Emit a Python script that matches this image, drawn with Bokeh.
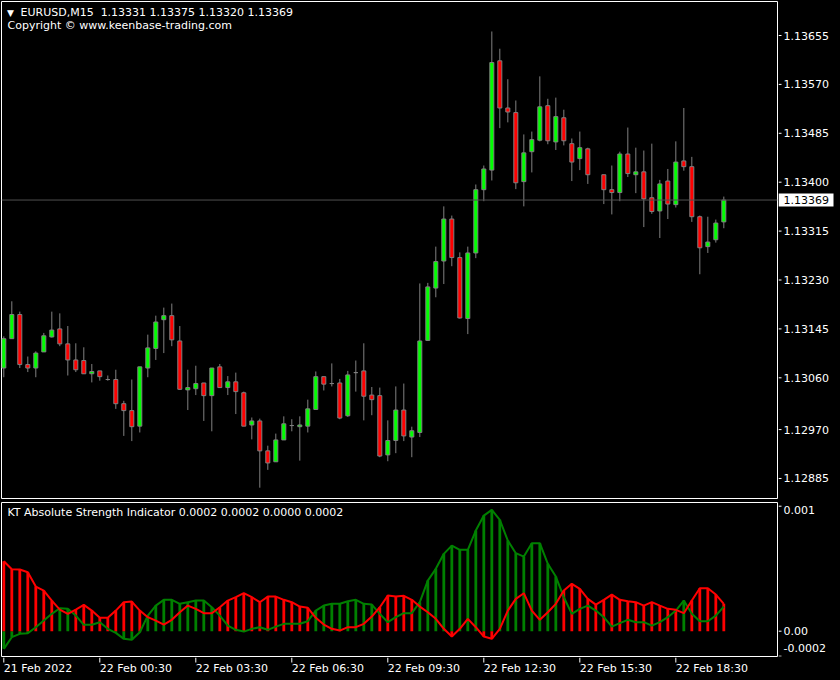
import numpy as np
from bokeh.plotting import figure
from bokeh.layouts import column, row
from bokeh.models import (ColumnDataSource, Range1d, Span, Label, GlobalInlineStyleSheet)
from bokeh.core.properties import value
from bokeh.embed import file_html
from bokeh.resources import INLINE

nan = float("nan")

# ---------------- data: EURUSD M15 ----------------
opens = [1.13077, 1.13128, 1.13170, 1.13083, 1.13077, 1.13105, 1.13131, 1.13145, 1.13119, 1.13091,
         1.13090, 1.13067, 1.13072, 1.13057, 1.13057, 1.13015, 1.13003, 1.12976, 1.13077, 1.13111,
         1.13161, 1.13168, 1.13124, 1.13039, 1.13041, 1.13051, 1.13029, 1.13079, 1.13043, 1.13053,
         1.13034, 1.12978, 1.12985, 1.12933, 1.12914, 1.12952, 1.12977, 1.12975, 1.12976, 1.13005,
         1.13062, 1.13050, 1.13051, 1.12994, 1.13069, 1.13072, 1.13030, 1.13029, 1.12926, 1.12951,
         1.13004, 1.12957, 1.12965, 1.13125, 1.13216, 1.13263, 1.13336, 1.13269, 1.13163, 1.13277,
         1.13387, 1.13421, 1.13611, 1.13529, 1.13521, 1.13401, 1.13453, 1.13473, 1.13533, 1.13470,
         1.13512, 1.13467, 1.13441, 1.13458, nan, 1.13413, 1.13387, 1.13382, 1.13449, 1.13413,
         1.13418, 1.13373, 1.13350, 1.13402, 1.13361, 1.13437, 1.13427, 1.13340, 1.13288, 1.13300,
         1.13331]
highs = [1.13132, 1.13193, 1.13175, 1.13097, 1.13106, 1.13138, 1.13175, 1.13172, 1.13150, 1.13120,
         1.13113, 1.13084, 1.13072, 1.13064, 1.13074, 1.13020, 1.13057, 1.13079, 1.13135, 1.13168,
         1.13182, 1.13189, 1.13150, 1.13074, 1.13081, 1.13051, 1.13077, 1.13084, 1.13063, 1.13069,
         1.13036, 1.12991, 1.12989, 1.12942, 1.12963, 1.12993, 1.12988, 1.12993, 1.13022, 1.13071,
         1.13062, 1.13085, 1.13058, 1.13072, 1.13090, 1.13120, 1.13044, 1.13043, 1.12986, 1.13045,
         1.13050, 1.12975, 1.13224, 1.13225, 1.13288, 1.13358, 1.13342, 1.13278, 1.13288, 1.13396,
         1.13429, 1.13662, 1.13632, 1.13579, 1.13542, 1.13483, 1.13488, 1.13584, 1.13545, 1.13547,
         1.13526, 1.13476, 1.13488, 1.13460, nan, 1.13413, 1.13429, 1.13453, 1.13495, 1.13460,
         1.13455, 1.13467, 1.13404, 1.13423, 1.13471, 1.13529, 1.13444, 1.13342, 1.13340, 1.13335,
         1.13375]
lows = [1.13061, 1.13128, 1.13077, 1.13070, 1.13061, 1.13105, 1.13130, 1.13115, 1.13064, 1.13070,
        1.13067, 1.13052, 1.13055, 1.13055, 1.13006, 1.12959, 1.12950, 1.12965, 1.13061, 1.13091,
        1.13103, 1.13115, 1.13039, 1.13004, 1.13030, 1.12985, 1.12967, 1.13043, 1.13030, 1.12997,
        1.12976, 1.12953, 1.12869, 1.12900, 1.12914, 1.12952, 1.12967, 1.12916, 1.12965, 1.13005,
        1.13038, 1.13045, 1.12988, 1.12992, 1.13036, 1.12986, 1.12995, 1.12922, 1.12915, 1.12929,
        1.12950, 1.12922, 1.12957, 1.13124, 1.13200, 1.13223, 1.13254, 1.13163, 1.13136, 1.13268,
        1.13367, 1.13403, 1.13494, 1.13504, 1.13388, 1.13358, 1.13417, 1.13471, 1.13466, 1.13456,
        1.13464, 1.13402, 1.13421, 1.13397, nan, 1.13362, 1.13344, 1.13367, 1.13409, 1.13381,
        1.13322, 1.13345, 1.13303, 1.13336, 1.13356, 1.13420, 1.13331, 1.13240, 1.13277, 1.13295,
        1.13320]
closes = [1.13128, 1.13170, 1.13083, 1.13077, 1.13103, 1.13133, 1.13143, 1.13119, 1.13091, 1.13074,
          1.13067, 1.13071, 1.13062, 1.13057, 1.13015, 1.13003, 1.12975, 1.13079, 1.13112, 1.13157,
          1.13168, 1.13126, 1.13040, 1.13043, 1.13050, 1.13029, 1.13077, 1.13043, 1.13053, 1.13036,
          1.12976, 1.12985, 1.12933, 1.12912, 1.12952, 1.12980, 1.12977, 1.12978, 1.13006, 1.13062,
          1.13049, 1.13050, 1.12990, 1.13065, 1.13069, 1.13028, 1.13022, 1.12924, 1.12951, 1.13004,
          1.12959, 1.12968, 1.13124, 1.13218, 1.13262, 1.13336, 1.13269, 1.13164, 1.13277, 1.13387,
          1.13423, 1.13608, 1.13529, 1.13522, 1.13399, 1.13451, 1.13474, 1.13531, 1.13472, 1.13514,
          1.13472, 1.13435, 1.13460, 1.13413, nan, 1.13387, 1.13382, 1.13449, 1.13415, 1.13418,
          1.13371, 1.13349, 1.13397, 1.13362, 1.13435, 1.13427, 1.13340, 1.13286, 1.13296, 1.13329,
          1.13369]

# KT Absolute Strength indicator (units of 1e-5)
bull_e5 = [-14.1, -4.8, -2.1, -1.6, 3.2, 8.5, 13.9, 18.4, 17.9, 12.5,
           5.1, 5.1, 7.2, 1.9, -1.3, -6.1, -6.9, -0.8, 12.5, 20.5,
           25.1, 25.1, 21.9, 23.2, 24.5, 24.5, 19.2, 12.5, 4.5, 1.1,
           -0.3, 1.9, 3.2, 1.1, 3.7, 5.9, 5.9, 5.9, 8.0, 16.5,
           20.5, 21.9, 21.9, 24.0, 25.1, 21.9, 21.3, 13.9, 7.2, 11.2,
           14.4, 14.4, 23.2, 40.5, 49.9, 61.9, 68.5, 65.1, 65.1, 80.5,
           92.5, 97.1, 89.1, 72.5, 62.4, 59.7, 70.4, 70.4, 53.9, 43.7,
           27.2, 13.9, 17.9, 20.5, 16.5, 11.2, 3.7, 6.4, 9.1, 7.2,
           7.2, 4.5, 7.2, 11.2, 16.5, 24.5, 13.9, 8.0, 8.0, 12.5,
           19.7]
bear_e5 = [56.0, 49.6, 49.3, 47.2, 35.7, 32.5, 24.5, 17.3, 13.9, 17.3,
           21.1, 16.5, 10.7, 10.7, 16.5, 23.2, 23.7, 16.5, 11.2, 8.5,
           5.3, 9.1, 15.2, 20.5, 17.9, 14.4, 14.4, 19.2, 24.5, 27.2,
           30.4, 27.2, 23.2, 27.7, 27.7, 25.1, 23.2, 19.7, 18.7, 10.7,
           5.3, 1.9, 0.5, 3.2, 3.2, 5.9, 11.7, 19.2, 28.5, 27.7,
           28.3, 25.1, 19.7, 15.2, 9.9, 1.9, -4.3, 1.9, 9.9, 3.2,
           -4.3, -6.1, 1.9, 16.5, 25.9, 30.4, 16.5, 9.1, 15.2, 21.9,
           32.5, 37.9, 33.9, 25.9, 21.3, 25.1, 29.3, 25.1, 24.0, 23.2,
           20.5, 23.2, 20.5, 17.9, 17.1, 14.4, 24.5, 34.4, 34.4, 29.3,
           21.9]

price_ticks = [1.13655, 1.13570, 1.13485, 1.13400, 1.13315, 1.13230, 1.13145, 1.13060, 1.12970, 1.12885]
ind_ticks = [0.001, 0.0, -0.0002]
ind_tick_labels = ["0.001", "0.00", "-0.0002"]
ind_tick_baselines = ["top", "middle", "bottom"]
ind_tick_offsets = [0, 0, -4]
time_tick_bars = [0, 12, 24, 36, 48, 60, 72, 84]
time_tick_labels = ["21 Feb 2022", "22 Feb 00:30", "22 Feb 03:30", "22 Feb 06:30",
                    "22 Feb 09:30", "22 Feb 12:30", "22 Feb 15:30", "22 Feb 18:30"]

# ---------------- styling ----------------
FONT = "DejaVu Sans"
FS = "11px"
BG = "#000000"
WICK = "#808080"
UP = "#00ff00"
DN = "#ff0000"
LGREEN = "#008000"
LRED = "#ff0000"


def base_fig(**kw):
    f = figure(output_backend="svg", toolbar_location=None, x_axis_location=None,
               y_axis_location=None, background_fill_color=BG, border_fill_color=BG, **kw)
    f.grid.visible = False
    return f


o = np.array(opens); h = np.array(highs); l = np.array(lows); c = np.array(closes)
x = np.arange(len(o))
colors = np.where(c >= o, UP, DN)
src = ColumnDataSource(dict(x=x, o=o, h=h, l=l, c=c,
                            top=np.maximum(o, c), bottom=np.minimum(o, c), color=colors))

xr = Range1d(-0.2875, 96.71)
yr_main = Range1d(1.128502, 1.137141)
yr_ind = Range1d(-0.0002024, 0.0010296)

# ---------------- main price panel ----------------
p = base_fig(width=778, height=500, x_range=xr, y_range=yr_main,
             outline_line_color="white", outline_line_width=1,
             min_border_left=1, min_border_right=1, min_border_top=1, min_border_bottom=2)
p.add_layout(Span(location=c[-1], dimension="width", line_color="#505050", line_width=1))
p.segment(x0="x", y0="l", x1="x", y1="h", line_color=WICK, line_width=1, source=src)
p.vbar(x="x", top="top", bottom="bottom", width=0.5, fill_color="color",
       line_color=WICK, line_width=1, source=src)

p.add_layout(Label(x=9, y=486, x_units="screen", y_units="screen", text="\u25bc",
                   text_color="white", text_font=FONT, text_font_size="9px",
                   text_baseline="middle", text_align="center"))
p.add_layout(Label(x=19, y=486, x_units="screen", y_units="screen",
                   text=f"EURUSD,M15\u00a0 {o[-1]:.5f} {h[-1]:.5f} {l[-1]:.5f} {c[-1]:.5f}",
                   text_color="white", text_font=FONT, text_font_size=FS, text_baseline="middle"))
p.add_layout(Label(x=6, y=473, x_units="screen", y_units="screen",
                   text="Copyright \u00a9 www.keenbase-trading.com",
                   text_color="white", text_font=FONT, text_font_size=FS, text_baseline="middle"))

# price scale (right)
pr = base_fig(width=62, height=500, x_range=Range1d(0, 62), y_range=yr_main,
              outline_line_color=None,
              min_border_left=0, min_border_right=0, min_border_top=1, min_border_bottom=2)
psrc = ColumnDataSource(dict(y=price_ticks, text=[f"{v:.5f}" for v in price_ticks]))
pr.segment(x0=0, x1=3, y0="y", y1="y", line_color="white", line_width=1, source=psrc)
pr.text(x=5, y="y", text="text", text_color="white", text_font=value(FONT),
        text_font_size=value(FS), text_baseline="middle", text_align="left", source=psrc)
last_src = ColumnDataSource(dict(y=[c[-1]], text=[f"{c[-1]:.5f}"]))
pr.rect(x=27.5, y="y", width=55, height=13, width_units="screen", height_units="screen",
        fill_color="white", line_color=None, source=last_src)
pr.text(x=5, y="y", text="text", text_color="black", text_font=value(FONT),
        text_font_size=value(FS), text_baseline="middle", text_align="left", source=last_src)

# ---------------- indicator panel ----------------
bull = np.array(bull_e5) * 1e-5
bear = np.array(bear_e5) * 1e-5
gtop = np.where((bull >= bear) | (bull < 0), bull, np.nan)
rtop = np.where((bear > bull) | (bear < 0), bear, np.nan)
isrc = ColumnDataSource(dict(x=x, bull=bull, bear=bear, gtop=gtop, rtop=rtop))

q = base_fig(width=778, height=157, x_range=xr, y_range=yr_ind,
             outline_line_color="white", outline_line_width=1,
             min_border_left=1, min_border_right=1, min_border_top=2, min_border_bottom=1)
q.vbar(x="x", top="gtop", bottom=0, width=0.35, fill_color=LGREEN, line_color=None, source=isrc)
q.vbar(x="x", top="rtop", bottom=0, width=0.35, fill_color=LRED, line_color=None, source=isrc)
q.line(x="x", y="bull", line_color=LGREEN, line_width=2, source=isrc)
q.line(x="x", y="bear", line_color=LRED, line_width=2, source=isrc)
q.add_layout(Label(x=6, y=144, x_units="screen", y_units="screen",
                   text=f"KT Absolute Strength Indicator {bull[-1]:.4f} {bear[-1]:.4f} 0.0000 {max(bull[-1], bear[-1]):.4f}",
                   text_color="white", text_font=FONT, text_font_size=FS, text_baseline="middle"))

qr = base_fig(width=62, height=157, x_range=Range1d(0, 62), y_range=yr_ind,
              outline_line_color=None,
              min_border_left=0, min_border_right=0, min_border_top=2, min_border_bottom=1)
isrc_t = ColumnDataSource(dict(y=ind_ticks, text=ind_tick_labels))
qr.segment(x0=0, x1=3, y0="y", y1="y", line_color="white", line_width=1, source=isrc_t)
for yv, lab, bl, off in zip(ind_ticks, ind_tick_labels, ind_tick_baselines, ind_tick_offsets):
    qr.text(x=[5], y=[yv], text=[lab], text_color="white", text_font=value(FONT),
            text_font_size=value(FS), text_baseline=bl, text_align="left", y_offset=off)

# ---------------- time scale ----------------
t = base_fig(width=840, height=23, x_range=xr, y_range=Range1d(0, 23),
             outline_line_color=None,
             min_border_left=1, min_border_right=63, min_border_top=0, min_border_bottom=0)
tsrc = ColumnDataSource(dict(x=time_tick_bars, text=time_tick_labels))
t.segment(x0="x", x1="x", y0=23, y1=18, line_color="white", line_width=1, source=tsrc)
t.text(x="x", y=12, text="text", text_color="white", text_font=value(FONT),
       text_font_size=value(FS), text_baseline="middle", text_align="left", source=tsrc)

root = column(row(p, pr, spacing=0), row(q, qr, spacing=0), t, spacing=0,
              stylesheets=[GlobalInlineStyleSheet(css="html,body{margin:0;padding:0;background:#000;overflow:hidden;}")])

open("out.html", "w").write(file_html(root, INLINE))
